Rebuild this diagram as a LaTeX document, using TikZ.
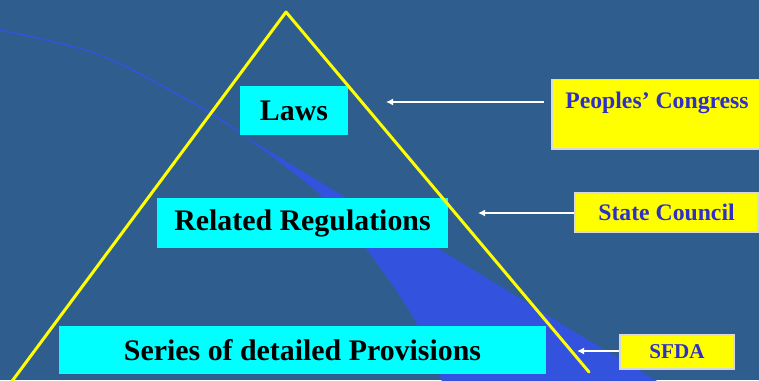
\documentclass[tikz,border=0pt]{standalone}
\usepackage{fontspec}
\setmainfont{Liberation Serif}
\usepackage{xcolor}
\usetikzlibrary{arrows.meta}
\definecolor{slide}{HTML}{2F5E8E}
\definecolor{swoosh}{HTML}{3352DD}
\definecolor{bodyblue}{HTML}{2E2EC8}
\definecolor{levelcyan}{HTML}{00FFFF}
\definecolor{bodyyellow}{HTML}{FFFF00}

\begin{document}
\begin{tikzpicture}[
  x=0.02cm, y=-0.02cm,
  level/.style={fill=levelcyan, inner sep=0pt, font=\fontsize{17}{20}\selectfont\bfseries},
  body/.style={fill=bodyyellow, draw=white!85!black, line width=0.8pt, text=bodyblue, inner sep=0pt, font=\fontsize{13.5}{16}\selectfont\bfseries},
  arrow/.style={-{Latex[length=4pt,width=4pt]}, draw=white, line width=0.8pt}
]
\clip (0,0) rectangle (759,380);
\fill[slide] (0,0) rectangle (759,380);
% background swoosh
\draw[swoosh, line width=0.8pt] plot[smooth] coordinates {(0,30) (100,55) (200,107) (240,133)};
\fill[swoosh] plot[smooth] coordinates {(240,133) (350,200) (437,248) (560,323) (662,384)} -- (443,384)
  -- plot[smooth] coordinates {(443,384) (413,317) (367,250) (317,192) (240,133)} -- cycle;
% pyramid levels
\node[level, minimum width=2.16cm, minimum height=0.98cm] (laws) at (294,110.5) {Laws};
\node[level, minimum width=5.82cm, minimum height=1.0cm] (regs) at (302.5,223) {Related Regulations};
\node[level, minimum width=9.74cm, minimum height=0.96cm] (prov) at (302.5,350) {Series of detailed Provisions};
% pyramid outline
\coordinate (apex) at (286,12);
\draw[bodyyellow, line width=1.7pt, line join=round, line cap=round] (4,392) -- (apex) -- (589,372);
% issuing bodies
\node[body, minimum width=4.2cm, text height=16.4pt, text depth=23.2pt] (pc) at (657,114) {Peoples' Congress};
\node[body, minimum width=3.66cm, minimum height=0.78cm] (sc) at (666.5,212.5) {State Council};
\node[body, minimum width=2.28cm, minimum height=0.68cm, font=\fontsize{12}{14}\selectfont\bfseries] (fda) at (677,352) {SFDA};
\coordinate (tipA) at (386,102);
\coordinate (tipB) at (478,213);
\coordinate (tipC) at (577,351);
\draw[arrow] ([xshift=-4pt]pc.west |- tipA) -- (tipA);
\draw[arrow] (sc.west |- tipB) -- (tipB);
\draw[arrow] (fda.west |- tipC) -- (tipC);
\end{tikzpicture}
\end{document}
